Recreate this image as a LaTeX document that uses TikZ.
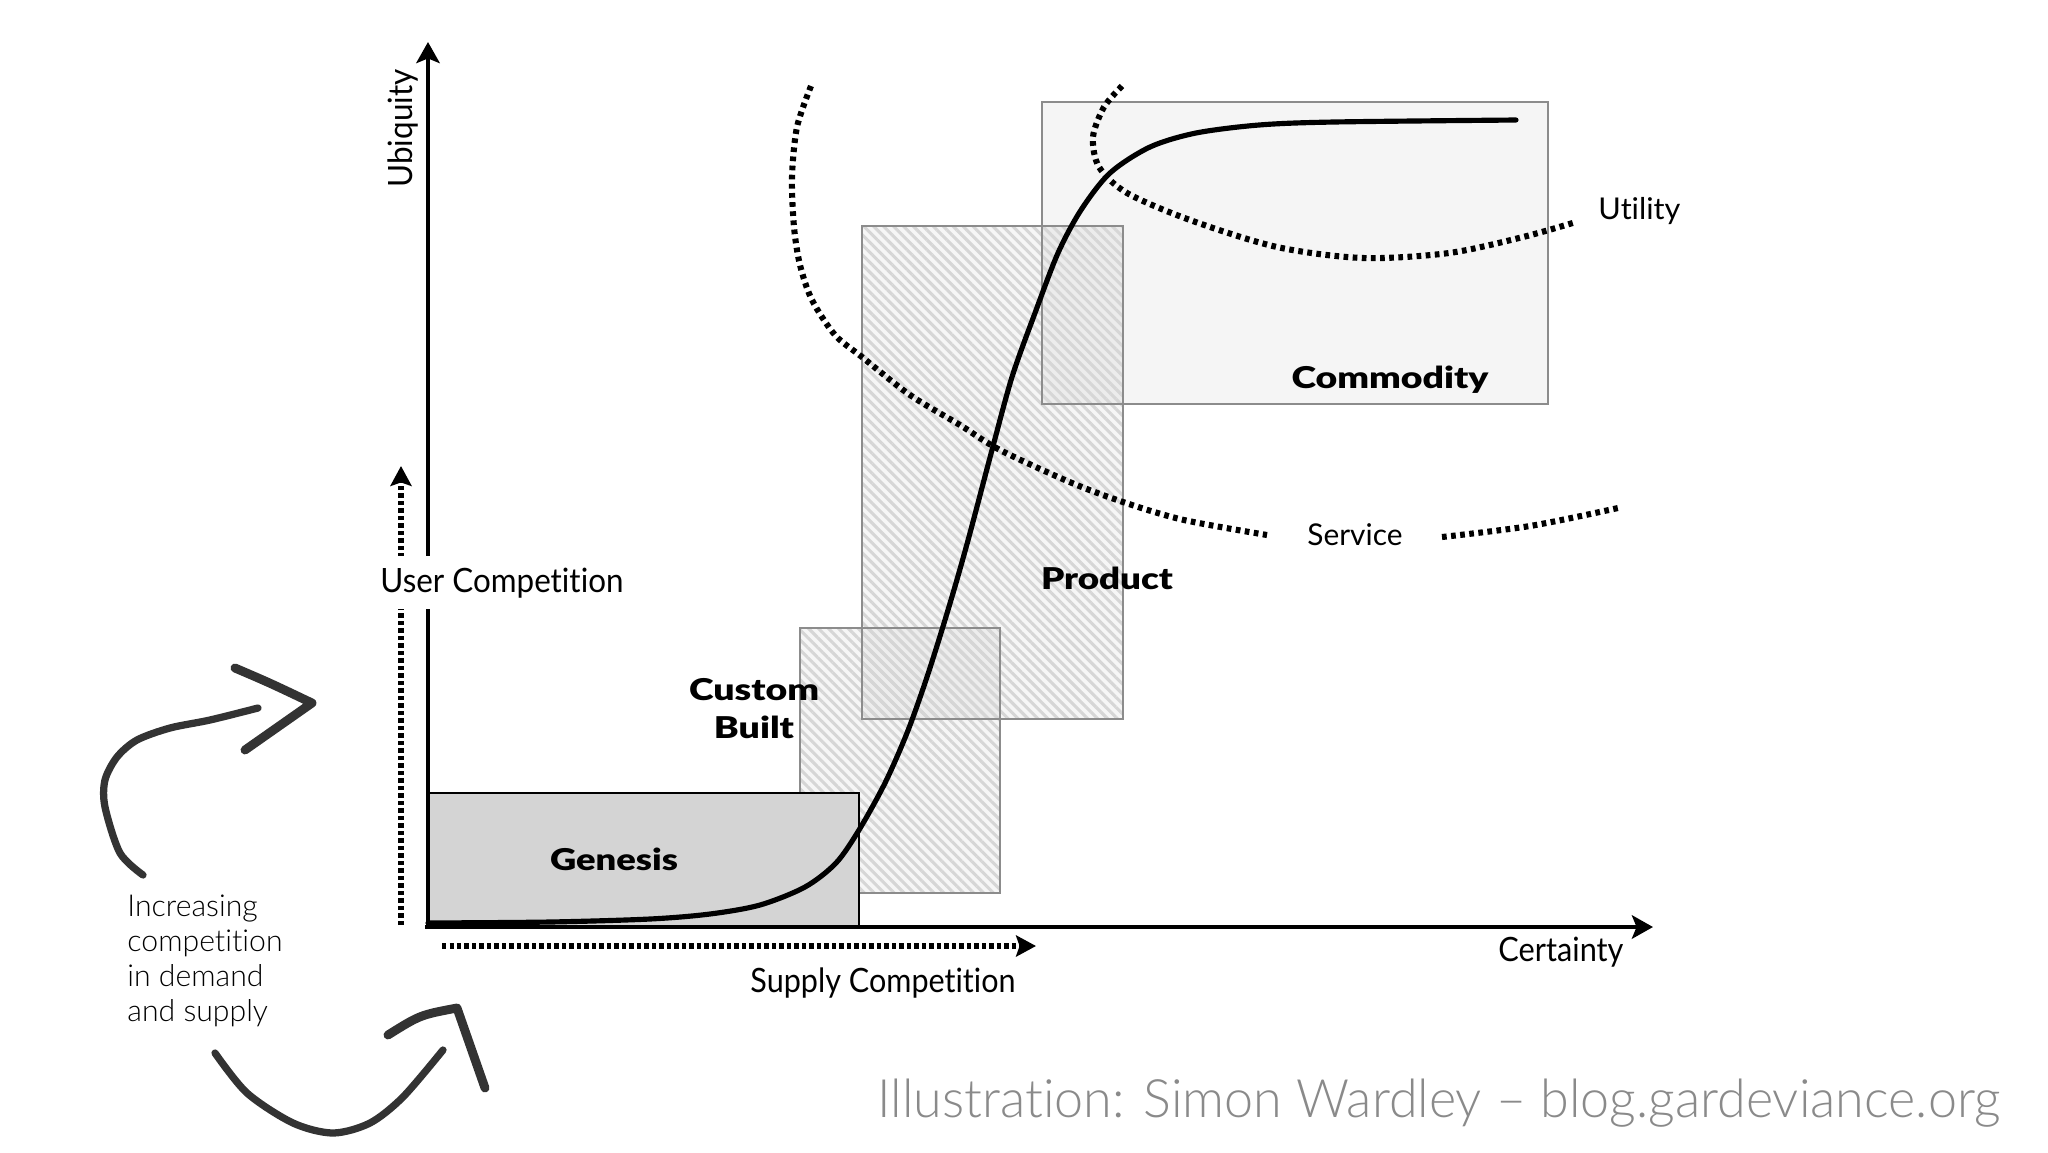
\documentclass[tikz,border=0pt]{standalone}
\usepackage{fontspec}
\setmainfont{Lato}[Ligatures={NoCommon}]
\newfontfamily\lblack{Lato Black}[Ligatures={NoCommon}]
\newfontfamily\llight{Lato Light}[Ligatures={NoCommon}]
\usepackage{graphicx}
\usetikzlibrary{arrows.meta,patterns.meta}
\definecolor{boxgray}{HTML}{8C8C8C}
\definecolor{genfill}{HTML}{D4D4D4}
\definecolor{comfill}{HTML}{F5F5F5}
\definecolor{hatchc}{HTML}{D6D6D6}
\definecolor{creditc}{HTML}{8A8A8A}
\definecolor{handc}{HTML}{333333}
\newsavebox\fwbox
\newcommand\fw[2]{\sbox\fwbox{#2}\pgfmathsetmacro\fwr{#1*0.4267911/\the\wd\fwbox}\scalebox{\fwr}[1]{\usebox\fwbox}}
\tikzset{
  axisline/.style={line width=2.1pt, -{Stealth[length=9pt,width=10pt,inset=2pt]}},
  dotarrow/.style={line width=2.5pt, dash pattern=on 1.8pt off 1.4pt, -{Stealth[length=8.5pt,width=9pt,inset=1.5pt]}},
  dotcurve/.style={line width=2.6pt, dash pattern=on 2pt off 1.9pt},
  tint/.style={fill=black, fill opacity=0.035},
  hatchfill/.style={pattern={Lines[angle=-45,distance=3pt,line width=1.3pt]}, pattern color=hatchc},
  boxline/.style={draw=boxgray, line width=0.95pt},
  evo/.style={line width=2.2pt, line cap=round},
  handline/.style={draw=handc, line width=3.1pt, line cap=round, line join=round},
  handhead/.style={draw=handc, line width=3.8pt, line cap=round, line join=round},
  lbl/.style={font=\fontsize{14.3}{17}\selectfont, inner sep=0pt},
  slbl/.style={font=\fontsize{12.8}{15}\selectfont, inner sep=0pt},
  blbl/.style={font=\lblack\fontsize{12.8}{14.5}\selectfont, inner sep=0pt},
}
\begin{document}
\begin{tikzpicture}[x=0.015cm, y=-0.015cm]
\fill[white] (0,0) rectangle (2048,1152);
\path[use as bounding box] (0,0) rectangle (2048,1152);

% boxes
\fill[comfill] (1042,102) rectangle (1548,404);
\fill[tint] (862,226) rectangle (1123,719);
\fill[hatchfill] (862,226) rectangle (1123,719);
\fill[tint] (800,628) rectangle (1000,893);
\fill[hatchfill] (800,628) rectangle (1000,893);
\draw[boxline] (1042,102) rectangle (1548,404);
\draw[boxline] (862,226) rectangle (1123,719);
\draw[boxline] (800,628) rectangle (1000,893);
\draw[fill=genfill, draw=black, line width=1.15pt] (428,793) rectangle (859,927);

% axes
\coordinate (ybot) at (428,929);
\coordinate (ytip) at (428,42);
\coordinate (xleft) at (425,927);
\coordinate (xtip) at (1653,927);
\draw[axisline] (ybot) -- (ytip);
\draw[axisline] (xleft) -- (xtip);

% competition arrows
\coordinate (uc0) at (401,925);
\coordinate (uc1) at (401,466);
\coordinate (sc0) at (442,946);
\coordinate (sc1) at (1036,946);
\draw[dotarrow] (uc0) -- (uc1);
\draw[dotarrow] (sc0) -- (sc1);

% service and utility curves
\draw[dotcurve] plot[smooth] coordinates {(811,86) (797,127) (792,177) (794,227) (800,265) (812,300) (835,335) (862,357) (910,395) (960,425) (1000,450) (1072,483) (1126,503) (1184,520) (1267,535)};
\draw[dotcurve] plot[smooth] coordinates {(1442,537) (1530,526) (1618,508)};
\draw[dotcurve] plot[smooth] coordinates {(1122,86) (1104,107) (1093,137) (1099,167) (1127,193) (1190,220) (1277,247) (1363,258) (1449,253) (1523,237) (1576,222)};

% evolution curve
\draw[evo] plot[smooth] coordinates {(428,923) (550,922) (650,919) (710,914) (760,905) (805,887) (836,863) (859,830) (885,783) (907,733) (925,683) (941,633) (956,583) (970,533) (992,450) (1012,377) (1035,313) (1058,253) (1081,210) (1110,173) (1150,147) (1196,133) (1259,125) (1334,122) (1516,120)};

% labels
\node[lbl, anchor=base west, fill=white, inner ysep=5pt] (uc) at (380,592) {\fw{243}{User Competition}};
\node[lbl, anchor=base west] (sc) at (750,992) {\fw{265}{Supply Competition}};
\node[lbl, anchor=base west] (cert) at (1498,961) {\fw{125}{Certainty}};
\node[lbl, anchor=base west, rotate=90] (ubi) at (412,188) {\fw{118}{Ubiquity}};
\node[slbl, anchor=base west] (serv) at (1307,545) {\fw{95}{Service}};
\node[slbl, anchor=base west] (util) at (1598,219) {\fw{82}{Utility}};
\node[blbl, anchor=base] (gen) at (614,870) {\fw{128}{Genesis}};
\node[blbl, anchor=base] (prod) at (1107,589) {\fw{132}{Product}};
\node[blbl, anchor=base] (comm) at (1390,388) {\fw{197}{Commodity}};
\node[blbl, anchor=center, font=\lblack\fontsize{12.8}{16.3}\selectfont] (cust) at (754,712) {\fw{130}{\begin{tabular}{@{}c@{}}Custom\\Built\end{tabular}}};

\node[font=\llight\fontsize{12.9}{14.94}\selectfont, text=black, inner sep=0pt, anchor=west] (inc) at (127,962) {\fw{155}{\begin{tabular}{@{}l@{}}Increasing\\competition\\in demand\\and supply\end{tabular}}};

\node[font=\llight\fontsize{22.6}{26}\selectfont, text=creditc, inner sep=0pt, anchor=base west] (credit) at (877,1117) {\fw{1123}{Illustration: Simon Wardley – blog.gardeviance.org}};

% hand-drawn arrows
\draw[handline] plot[smooth] coordinates {(143,875) (120,853) (105,807) (105,780) (117,757) (137,740) (170,728) (210,720) (258,708)};
\draw[handhead] (235,668) .. controls (270,683) .. (312,703) -- (245,750);
\draw[handline] plot[smooth] coordinates {(215,1053) (247,1093) (293,1123) (333,1133) (370,1123) (403,1097) (443,1050)};
\draw[handhead] (388,1035) .. controls (420,1015) .. (457,1008) -- (485,1088);
\end{tikzpicture}
\end{document}
